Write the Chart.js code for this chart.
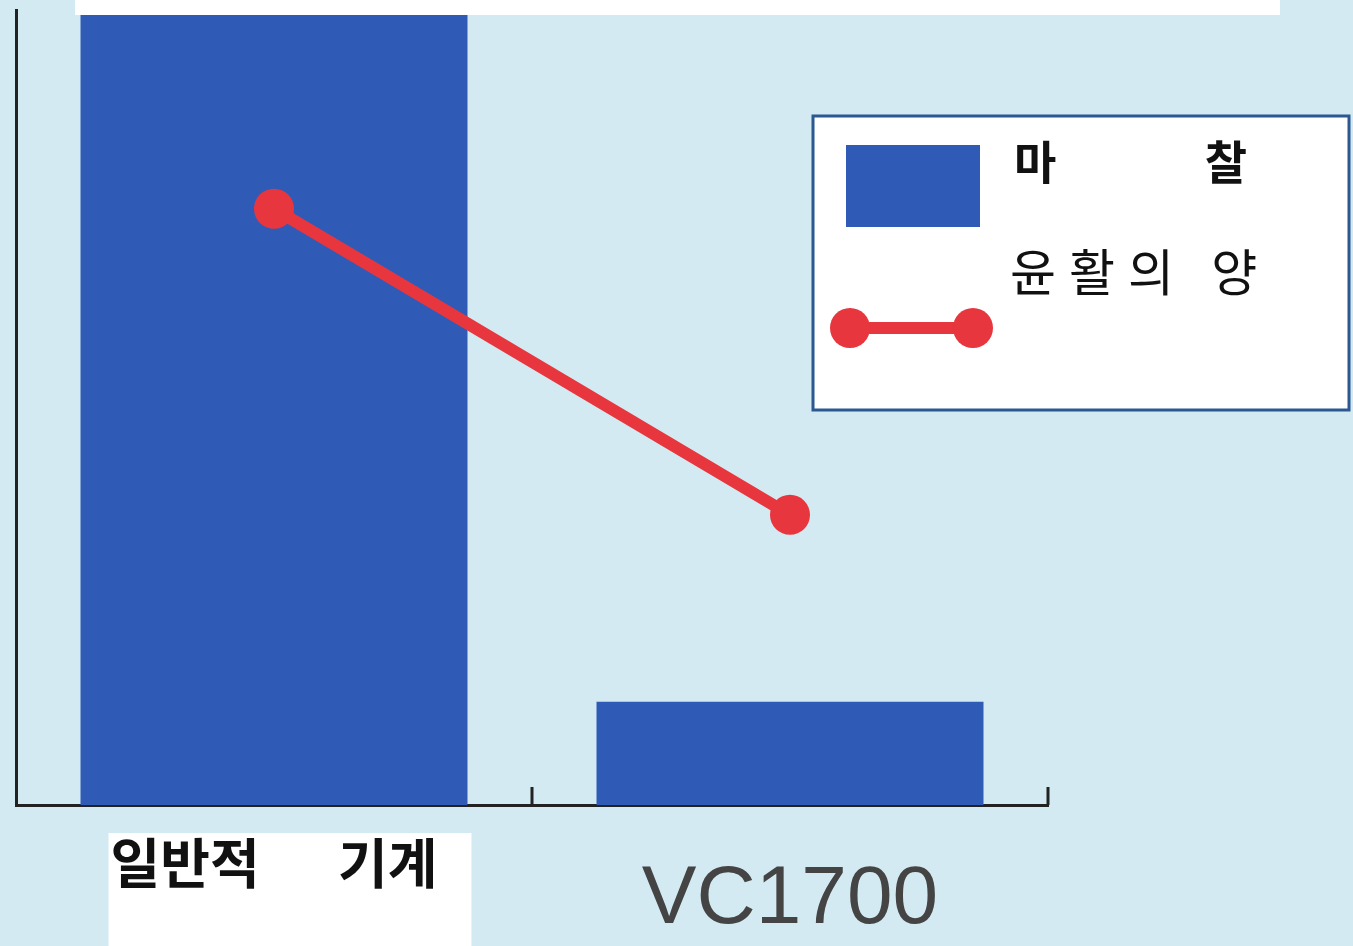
<!DOCTYPE html>
<html>
<head>
<meta charset="utf-8">
<script src="https://cdn.jsdelivr.net/npm/chart.js@4"></script>
<style>
  html, body { margin: 0; padding: 0; background: #d4eaf2; }
  #wrap { position: relative; width: 1353px; height: 946px; }
  #topbar { position: absolute; left: 75px; top: 0; width: 1205px; height: 15px; background: #fff; z-index: 2; }
</style>
</head>
<body>
<div id="wrap">
  <div id="topbar"></div>
  <canvas id="combo-chart" width="1353" height="946"></canvas>
</div>
<script>
// data
var categories = ['일반적　  기계', 'VC1700'];
var frictionData = [100, 13];
var lubricationData = [75, 36.5];
var frictionLabel = '마　　　 찰';
var lubricationLabel = '윤활의 양';

var barBlue = '#2f5bb7';
var lineRed = '#e8363e';

// upward tick marks on the x axis at category boundaries
var innerTicks = {
    id: 'innerTicks',
    afterDraw: function (chart) {
        var x = chart.scales.x;
        var ctx = chart.ctx;
        ctx.save();
        ctx.strokeStyle = '#222';
        ctx.lineWidth = 3;
        for (var i = 1; i <= categories.length; i++) {
            var px = x.getPixelForValue(i - 0.5);
            ctx.beginPath();
            ctx.moveTo(px, x.top);
            ctx.lineTo(px, x.top - 18);
            ctx.stroke();
        }
        ctx.restore();
    }
};

// legend box: swatch + text, then text with the line symbol underneath
var boxLegend = {
    id: 'boxLegend',
    afterDraw: function (chart) {
        var ctx = chart.ctx;
        var bar = chart.data.datasets.find(function (d) { return d.type === 'bar'; });
        var line = chart.data.datasets.find(function (d) { return d.type === 'line'; });
        ctx.save();
        ctx.fillStyle = '#fff';
        ctx.fillRect(813, 116, 536, 294);
        ctx.strokeStyle = '#2b5890';
        ctx.lineWidth = 3;
        ctx.strokeRect(813, 116, 536, 294);

        ctx.fillStyle = bar.backgroundColor;
        ctx.fillRect(846, 145, 134, 82);
        ctx.fillStyle = '#111';
        ctx.textBaseline = 'middle';
        ctx.font = 'bold 46px "Noto Sans CJK KR"';
        ctx.fillText(bar.label, 1014, 162);

        ctx.font = '50px "Noto Sans CJK KR"';
        ctx.letterSpacing = '13px';
        ctx.fillText(line.label, 1010, 272);
        ctx.letterSpacing = '0px';

        ctx.strokeStyle = line.borderColor;
        ctx.lineWidth = 12;
        ctx.beginPath();
        ctx.moveTo(850, 328);
        ctx.lineTo(973, 328);
        ctx.stroke();
        ctx.fillStyle = line.pointBackgroundColor;
        [850, 973].forEach(function (cx) {
            ctx.beginPath();
            ctx.arc(cx, 328, 20, 0, Math.PI * 2);
            ctx.fill();
        });
        ctx.restore();
    }
};

var ctx1 = document.getElementById('combo-chart');
var comboChart = new Chart(ctx1.getContext('2d'), {
    type: 'bar',
    data: {
        labels: categories,
        datasets: [{
            type: 'line',
            label: lubricationLabel,
            data: lubricationData,
            borderColor: lineRed,
            backgroundColor: lineRed,
            pointBackgroundColor: lineRed,
            pointBorderWidth: 0,
            pointRadius: 20,
            borderWidth: 12,
            order: 0
        }, {
            type: 'bar',
            label: frictionLabel,
            data: frictionData,
            backgroundColor: barBlue,
            categoryPercentage: 1,
            barPercentage: 0.75,
            order: 1
        }]
    },
    options: {
        responsive: false,
        animation: false,
        layout: {
            autoPadding: false,
            padding: { left: 16, right: 305, top: 10, bottom: 0 }
        },
        plugins: {
            legend: { display: false },
            tooltip: { enabled: false }
        },
        scales: {
            x: {
                grid: { display: false },
                border: { display: true, color: '#222', width: 3 },
                afterFit: function (scale) { scale.height = 141; },
                ticks: {
                    padding: 22,
                    color: function (c) { return c.index === 0 ? '#111' : '#444'; },
                    font: function (c) {
                        return c.index === 0
                            ? { family: '"Noto Sans CJK KR"', size: 54, weight: 'bold', lineHeight: 1.05 }
                            : { family: 'Liberation Sans, Arial', size: 82, lineHeight: 1.6 };
                    },
                    showLabelBackdrop: function (c) { return c.index === 0; },
                    backdropColor: '#fff',
                    backdropPadding: { left: 2, right: 34, top: 2, bottom: 70 }
                }
            },
            y: {
                min: 0,
                max: 100,
                grid: { display: false },
                border: { display: true, color: '#222', width: 3 },
                ticks: { display: false },
                afterFit: function (scale) { scale.width = 0; }
            }
        }
    },
    plugins: [innerTicks, boxLegend]
});
</script>
</body>
</html>
